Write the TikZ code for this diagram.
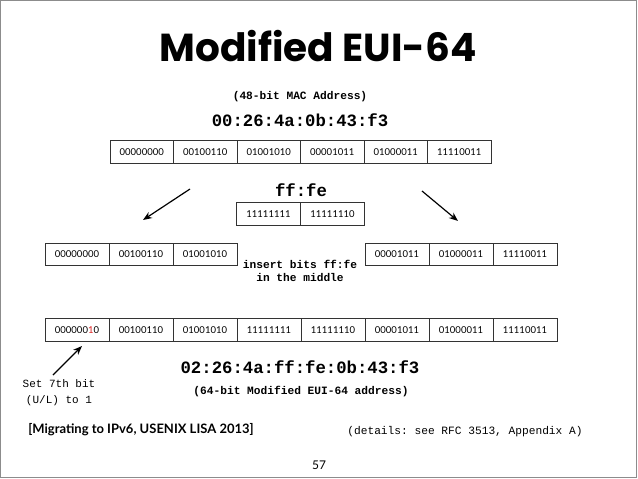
\documentclass[tikz,border=0pt]{standalone}
\usepackage{fontspec}
\setmainfont{Lato}
\setmonofont{Liberation Mono}
\newfontfamily\titlefont{Poppins}
\usetikzlibrary{arrows.meta}
\definecolor{framegray}{gray}{0.55}
\definecolor{bitred}{RGB}{220,30,30}
\tikzset{
  bitbox/.style={draw=black!80, line width=0.8pt, minimum width=63.5pt, minimum height=22.5pt, inner sep=0pt, font=\fontsize{9.5}{10}\selectfont},
  monob/.style={font=\fontsize{11.2}{13}\ttfamily\bfseries, inner sep=0pt, align=center},
  monobig/.style={font=\fontsize{17.3}{19}\ttfamily\bfseries, inner sep=0pt},
  monoreg/.style={font=\fontsize{11}{16}\ttfamily, inner sep=0pt, align=center},
  arr/.style={line width=1.2pt, -{Stealth[length=9pt,width=7pt]}}
}
\begin{document}
\begin{tikzpicture}[x=1pt,y=-1pt]
\useasboundingbox (0,0) rectangle (638,479);
\draw[framegray, line width=1.2pt] (0.8,0.8) rectangle (636.5,477.6);

\node[font=\fontsize{39}{44}\titlefont\bfseries, inner sep=0pt] (title) at (318,46) {Modified EUI-64};
\node[monob] (mac) at (300,97) {(48-bit MAC Address)};
\node[monobig] (macaddr) at (300,120) {00:26:4a:0b:43:f3};

% top row
\foreach \t [count=\i from 0] in {00000000,00100110,01001010,00001011,01000011,11110011}
  \node[bitbox] (t\i) at ({141.75+63.5*\i},152) {\t};

% ff:fe
\node[monobig] (fffe) at (301,190) {ff:fe};
\node[bitbox, minimum width=64pt] (f0) at (268.5,214) {11111111};
\node[bitbox, minimum width=64pt] (f1) at (332.5,214) {11111110};

% middle row
\foreach \t [count=\i from 0] in {00000000,00100110,01001010}
  \node[bitbox, minimum width=64pt] (m\i) at ({77+64*\i},254.5) {\t};
\foreach \t [count=\i from 3] in {00001011,01000011,11110011}
  \node[bitbox, minimum width=64pt] (m\i) at ({397+64*(\i-3)},254.5) {\t};
\node[monob] (ins) at (300,270.5) {insert bits ff:fe\\in the middle};

% bottom row
\node[bitbox, minimum width=64pt] (b0) at (77,330) {000000\textcolor{bitred}{1}0};
\foreach \t [count=\i from 1] in {00100110,01001010,11111111,11111110,00001011,01000011,11110011}
  \node[bitbox, minimum width=64pt] (b\i) at ({77+64*\i},330) {\t};

% arrows
\coordinate (la1) at (190,189); \coordinate (la2) at (143,220);
\coordinate (ra1) at (422,191); \coordinate (ra2) at (458,221);
\coordinate (ba1) at (53,375);  \coordinate (ba2) at (82,346);
\draw[arr] (la1) -- (la2);
\draw[arr] (ra1) -- (ra2);
\draw[arr] (ba1) -- (ba2);

\node[monobig] (eui) at (300,367) {02:26:4a:ff:fe:0b:43:f3};
\node[monob] (euil) at (301,392) {(64-bit Modified EUI-64 address)};
\node[monoreg] (set) at (59,393) {Set 7th bit\\(U/L) to 1};

\node[font=\fontsize{13}{15}\selectfont\bfseries, inner sep=0pt] (ref) at (141,430) {[Migrating to IPv6, USENIX LISA 2013]};
\node[monoreg, font=\fontsize{11.2}{13}\ttfamily] (det) at (465,432) {(details: see RFC 3513, Appendix A)};
\node[font=\fontsize{12}{14}\selectfont, inner sep=0pt] (pg) at (319,465) {57};
\end{tikzpicture}
\end{document}
